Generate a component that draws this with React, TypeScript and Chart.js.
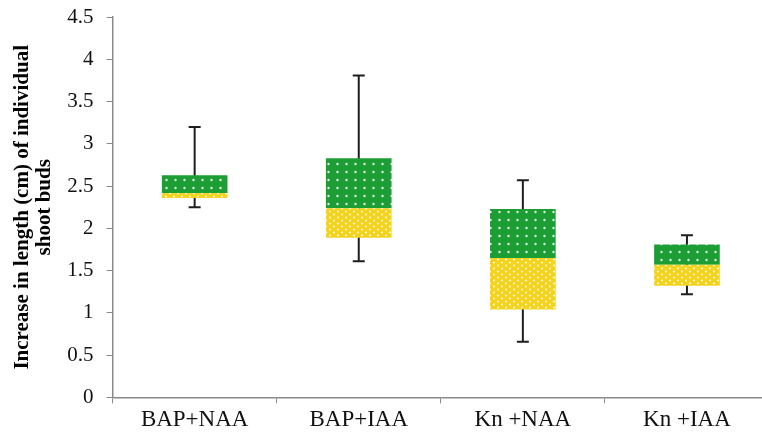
import React, { useEffect, useRef } from 'react';
import { Chart, registerables } from 'chart.js';

Chart.register(...registerables);

const categories = ['BAP+NAA', 'BAP+IAA', 'Kn +NAA', 'Kn +IAA'];
const minValues = [2.25, 1.61, 0.66, 1.22];
const q1Values = [2.36, 1.89, 1.04, 1.32];
const medianValues = [2.42, 2.24, 1.65, 1.57];
const q3Values = [2.63, 2.83, 2.23, 1.81];
const maxValues = [3.2, 3.81, 2.57, 1.92];
const yAxisTitle = ['Increase in length (cm) of individual', 'shoot buds'];

const FONT = "'Liberation Serif', 'Times New Roman', serif";
const AXIS_GRAY = '#8a8a8a';

function makePattern(bg: string, w: number, h: number, dots: number[][]) {
  const c = document.createElement('canvas');
  c.width = w;
  c.height = h;
  const g = c.getContext('2d')!;
  g.fillStyle = bg;
  g.fillRect(0, 0, w, h);
  g.fillStyle = 'rgba(255,255,255,0.85)';
  dots.forEach(([dx, dy, r]) => {
    g.beginPath();
    g.arc(dx, dy, r, 0, Math.PI * 2);
    g.fill();
  });
  return g.createPattern(c, 'repeat')!;
}

const whiskerPlugin = {
  id: 'whiskers',
  beforeDatasetsDraw(chart: any) {
    const { ctx, scales } = chart;
    const x = scales.x;
    const y = scales.y;
    ctx.save();
    ctx.strokeStyle = '#1e1e1e';
    ctx.lineWidth = 2;
    categories.forEach((_, i) => {
      const px = x.getPixelForValue(i);
      const top = y.getPixelForValue(maxValues[i]);
      const bot = y.getPixelForValue(minValues[i]);
      ctx.beginPath();
      ctx.moveTo(px, top);
      ctx.lineTo(px, bot);
      ctx.moveTo(px - 6, top);
      ctx.lineTo(px + 6, top);
      ctx.moveTo(px - 6, bot);
      ctx.lineTo(px + 6, bot);
      ctx.stroke();
    });
    ctx.restore();
  },
};

export default function App() {
  const canvasRef = useRef<HTMLCanvasElement | null>(null);

  useEffect(() => {
    if (!canvasRef.current) return;
    const yellow = makePattern('#f5d31a', 8, 6, [
      [2, 1.5, 1.1],
      [6, 4.5, 1.1],
    ]);
    const green = makePattern('#1c9e34', 9, 8, [[4.5, 4, 1.2]]);

    const chart = new Chart(canvasRef.current, {
      type: 'bar',
      data: {
        labels: categories,
        datasets: [
          {
            label: 'lower',
            data: categories.map((_, i) => [q1Values[i], medianValues[i]]) as any,
            backgroundColor: yellow as any,
            borderWidth: 0,
            grouped: false,
            barPercentage: 0.4,
            categoryPercentage: 1,
          },
          {
            label: 'upper',
            data: categories.map((_, i) => [medianValues[i], q3Values[i]]) as any,
            backgroundColor: green as any,
            borderWidth: 0,
            grouped: false,
            barPercentage: 0.4,
            categoryPercentage: 1,
          },
        ],
      },
      options: {
        animation: false,
        responsive: true,
        maintainAspectRatio: false,
        layout: { padding: { top: 16, right: 1, bottom: 0, left: 0 } },
        plugins: {
          legend: { display: false },
          tooltip: { enabled: false },
        },
        scales: {
          x: {
            type: 'category',
            offset: true,
            grid: {
              display: true,
              drawOnChartArea: false,
              drawTicks: true,
              tickLength: 6,
              color: AXIS_GRAY,
              offset: true,
            },
            border: { display: true, color: AXIS_GRAY, width: 1.5 },
            ticks: {
              font: { family: FONT, size: 23 },
              color: '#111',
              padding: 3,
            },
          },
          y: {
            min: 0,
            max: 4.5,
            ticks: {
              stepSize: 0.5,
              font: { family: FONT, size: 21, lineHeight: 0.4 },
              color: '#111',
              padding: 13,
              callback: (v: any) => String(Number(v)),
            },
            grid: {
              display: true,
              drawOnChartArea: false,
              drawTicks: true,
              tickLength: 6,
              color: AXIS_GRAY,
            },
            border: { display: true, color: AXIS_GRAY, width: 1.5 },
            title: {
              display: true,
              text: yAxisTitle,
              color: '#000',
              font: { family: FONT, size: 21, weight: 'bold', lineHeight: 1.05 },
              padding: { top: 12, bottom: 0 },
            },
            afterFit(scale: any) {
              scale.width = 112.6;
            },
          },
        },
      },
      plugins: [whiskerPlugin],
    });
    return () => chart.destroy();
  }, []);

  return (
    <div
      style={{
        position: 'fixed',
        left: 0,
        top: 0,
        width: 762,
        height: 437,
        overflow: 'hidden',
        background: '#fff',
      }}
    >
      <div style={{ position: 'relative', width: 770, height: 437 }}>
        <canvas ref={canvasRef} />
      </div>
    </div>
  );
}
